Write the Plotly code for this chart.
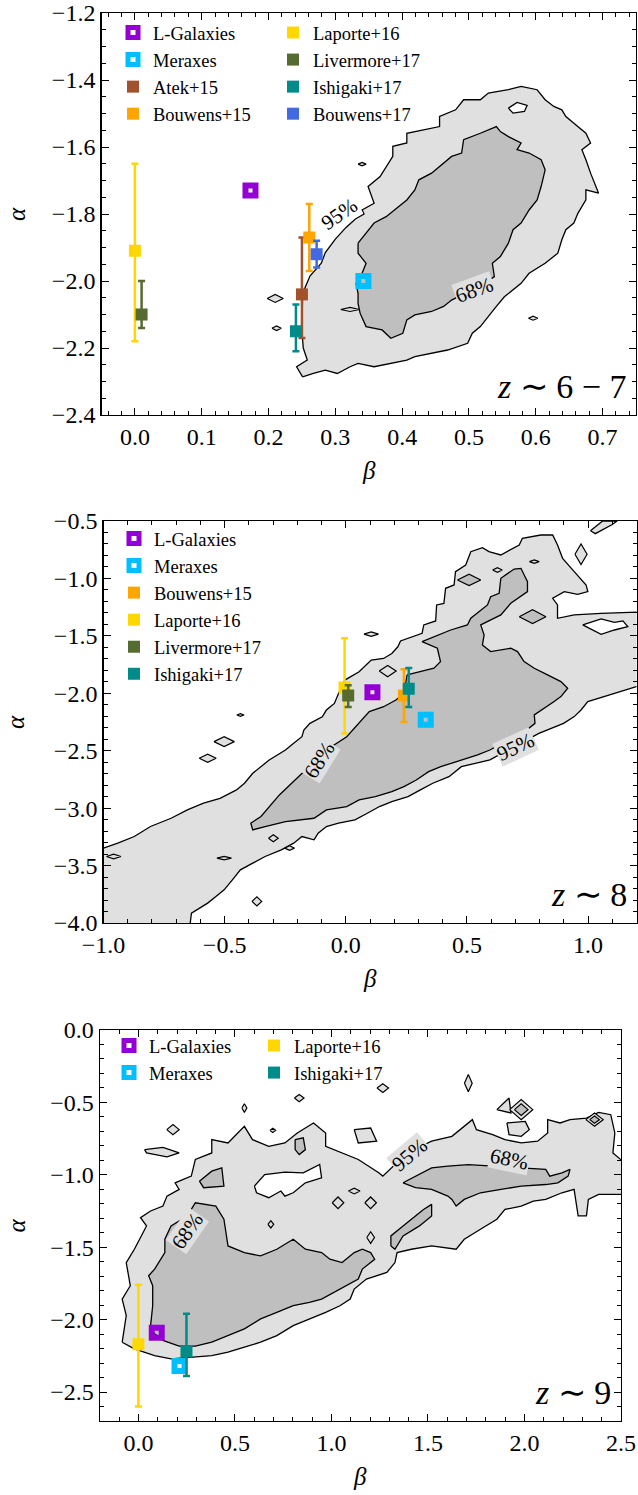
import plotly.graph_objects as go

# ------------------------------------------------------------------
# Data: best-fit (beta, alpha) of the UV luminosity function faint end
# ------------------------------------------------------------------
z67_names = ["L-Galaxies", "Meraxes", "Atek+15", "Bouwens+15",
             "Laporte+16", "Livermore+17", "Ishigaki+17", "Bouwens+17"]
z67_beta = [0.173, 0.342, 0.250, 0.261, 0.000, 0.010, 0.241, 0.272]
z67_alpha = [-1.73, -2.00, -2.04, -1.87, -1.91, -2.10, -2.15, -1.92]
z67_err_hi = [0.0, 0.0, 0.17, 0.10, 0.26, 0.10, 0.08, 0.04]
z67_err_lo = [0.0, 0.0, 0.13, 0.10, 0.27, 0.04, 0.06, 0.04]

z8_names = ["L-Galaxies", "Meraxes", "Bouwens+15", "Laporte+16",
            "Livermore+17", "Ishigaki+17"]
z8_beta = [0.11, 0.33, 0.24, -0.005, 0.01, 0.26]
z8_alpha = [-1.99, -2.23, -2.02, -1.95, -2.02, -1.96]
z8_err_hi = [0.0, 0.0, 0.23, 0.43, 0.09, 0.18]
z8_err_lo = [0.0, 0.0, 0.23, 0.40, 0.10, 0.16]

z9_names = ["L-Galaxies", "Meraxes", "Laporte+16", "Ishigaki+17"]
z9_beta = [0.095, 0.213, 0.000, 0.249]
z9_alpha = [-2.09, -2.32, -2.17, -2.22]
z9_err_hi = [0.0, 0.0, 0.41, 0.26]
z9_err_lo = [0.0, 0.0, 0.43, 0.17]

# ------------------------------------------------------------------
# Posterior credible regions (beta, alpha) vertices
# ------------------------------------------------------------------
z67_c95 = [(0.251, -2.286), (0.242, -2.256), (0.258, -2.236), (0.252, -2.20), (0.250, -2.15),
           (0.251, -2.08), (0.251, -2.037), (0.262, -1.985), (0.279, -1.947), (0.285, -1.915),
           (0.300, -1.875), (0.316, -1.84), (0.330, -1.815), (0.343, -1.80), (0.340, -1.788),
           (0.358, -1.768), (0.349, -1.718), (0.367, -1.688), (0.376, -1.658), (0.386, -1.628),
           (0.386, -1.598), (0.407, -1.588), (0.407, -1.559), (0.431, -1.549), (0.456, -1.539),
           (0.456, -1.509), (0.480, -1.489), (0.492, -1.459), (0.517, -1.459), (0.529, -1.439),
           (0.559, -1.429), (0.578, -1.419), (0.602, -1.429), (0.614, -1.459), (0.627, -1.479),
           (0.639, -1.489), (0.645, -1.509), (0.657, -1.529), (0.675, -1.559), (0.682, -1.588),
           (0.669, -1.608), (0.675, -1.638), (0.682, -1.678), (0.694, -1.738), (0.675, -1.728),
           (0.675, -1.758), (0.663, -1.798), (0.657, -1.827), (0.645, -1.847), (0.639, -1.877),
           (0.633, -1.917), (0.614, -1.947), (0.590, -1.977), (0.578, -2.007), (0.566, -2.027),
           (0.553, -2.047), (0.541, -2.076), (0.529, -2.106), (0.517, -2.136), (0.505, -2.156),
           (0.498, -2.186), (0.468, -2.206), (0.444, -2.216), (0.419, -2.226), (0.407, -2.236),
           (0.383, -2.246), (0.358, -2.256), (0.334, -2.246), (0.322, -2.256), (0.303, -2.276),
           (0.285, -2.266), (0.267, -2.276)]
z67_c68 = [(0.334, -1.887), (0.346, -1.857), (0.358, -1.827), (0.376, -1.808), (0.395, -1.778),
           (0.407, -1.758), (0.419, -1.728), (0.425, -1.698), (0.444, -1.678), (0.456, -1.658),
           (0.474, -1.628), (0.489, -1.618), (0.492, -1.578), (0.517, -1.559), (0.541, -1.539),
           (0.547, -1.554), (0.559, -1.569), (0.578, -1.588), (0.572, -1.608), (0.590, -1.618),
           (0.608, -1.638), (0.614, -1.668), (0.608, -1.718), (0.602, -1.758), (0.590, -1.788),
           (0.578, -1.827), (0.566, -1.847), (0.559, -1.887), (0.547, -1.927), (0.535, -1.947),
           (0.538, -1.987), (0.523, -2.007), (0.474, -2.057), (0.462, -2.076), (0.444, -2.091),
           (0.419, -2.101), (0.407, -2.116), (0.401, -2.156), (0.383, -2.171), (0.370, -2.146),
           (0.346, -2.136), (0.337, -2.096), (0.334, -2.067), (0.334, -2.037), (0.331, -2.007),
           (0.340, -1.977), (0.346, -1.947), (0.334, -1.917)]
z67_holes = [[(0.559, -1.484), (0.572, -1.467), (0.587, -1.476), (0.583, -1.494), (0.566, -1.499)]]
z67_islands = [(0.210, -2.052, 0.012, 0.012), (0.212, -2.141, 0.007, 0.007),
               (0.340, -1.651, 0.006, 0.005), (0.596, -2.111, 0.007, 0.006),
               (0.505, -1.621, 0.012, 0.004), (0.486, -1.676, 0.005, 0.006),
               (0.322, -2.085, 0.014, 0.006)]
z67_islands_dark = []

z8_c95 = [(-1.05, -3.36), (-1.0, -3.348), (-0.941, -3.305), (-0.873, -3.247), (-0.806, -3.160),
          (-0.721, -3.088), (-0.654, -3.015), (-0.587, -2.957), (-0.519, -2.914), (-0.451, -2.841),
          (-0.418, -2.783), (-0.384, -2.696), (-0.316, -2.581), (-0.249, -2.494), (-0.215, -2.436),
          (-0.181, -2.378), (-0.173, -2.320), (-0.148, -2.262), (-0.097, -2.204), (-0.080, -2.146),
          (-0.047, -2.088), (-0.030, -2.001), (-0.004, -1.885), (0.055, -1.813), (0.105, -1.711),
          (0.156, -1.697), (0.190, -1.653), (0.215, -1.595), (0.226, -1.544), (0.315, -1.478),
          (0.322, -1.405), (0.371, -1.370), (0.375, -1.231), (0.405, -1.217), (0.412, -1.086),
          (0.447, -1.057), (0.453, -0.941), (0.495, -0.883), (0.516, -0.767), (0.564, -0.732),
          (0.591, -0.767), (0.640, -0.796), (0.716, -0.709), (0.729, -0.651), (0.805, -0.622),
          (0.854, -0.622), (0.874, -0.709), (0.895, -0.825), (0.943, -0.941), (0.992, -1.057),
          (0.999, -1.115), (0.957, -1.138), (0.902, -1.115), (0.854, -1.173), (0.874, -1.231),
          (0.874, -1.347), (0.943, -1.318), (1.054, -1.304), (1.25, -1.289), (1.25, -1.942),
          (1.199, -1.942), (1.109, -2.000), (1.040, -2.043), (0.999, -2.072), (0.971, -2.145),
          (0.943, -2.203), (0.899, -2.262), (0.797, -2.349), (0.595, -2.580), (0.528, -2.610),
          (0.477, -2.639), (0.426, -2.726), (0.359, -2.783), (0.308, -2.841), (0.257, -2.899),
          (0.190, -2.943), (0.139, -2.986), (0.089, -3.044), (0.038, -3.102), (-0.030, -3.131),
          (-0.080, -3.160), (-0.114, -3.218), (-0.131, -3.276), (-0.181, -3.247), (-0.215, -3.305),
          (-0.266, -3.363), (-0.333, -3.421), (-0.384, -3.479), (-0.435, -3.537), (-0.468, -3.624),
          (-0.502, -3.711), (-0.536, -3.769), (-0.570, -3.827), (-0.637, -3.914), (-0.645, -4.05),
          (-1.05, -4.05)]
z8_c68 = [(0.253, -1.840), (0.364, -1.782), (0.391, -1.724), (0.378, -1.608), (0.315, -1.550),
          (0.433, -1.449), (0.502, -1.405), (0.516, -1.347), (0.585, -1.231), (0.598, -1.159),
          (0.633, -1.129), (0.640, -0.999), (0.695, -0.918), (0.723, -0.912), (0.750, -1.028),
          (0.750, -1.115), (0.681, -1.216), (0.640, -1.318), (0.557, -1.405), (0.571, -1.492),
          (0.564, -1.579), (0.598, -1.637), (0.681, -1.608), (0.709, -1.637), (0.736, -1.724),
          (0.778, -1.782), (0.833, -1.840), (0.888, -1.898), (0.916, -1.956), (0.888, -2.029),
          (0.860, -2.072), (0.819, -2.130), (0.778, -2.188), (0.781, -2.262), (0.747, -2.320),
          (0.696, -2.378), (0.646, -2.436), (0.595, -2.494), (0.544, -2.537), (0.477, -2.581),
          (0.392, -2.639), (0.342, -2.682), (0.291, -2.755), (0.240, -2.812), (0.190, -2.856),
          (0.122, -2.899), (0.055, -2.928), (0.004, -2.986), (-0.080, -3.015), (-0.131, -3.088),
          (-0.181, -3.102), (-0.249, -3.117), (-0.333, -3.160), (-0.384, -3.189), (-0.392, -3.131),
          (-0.350, -3.073), (-0.274, -2.885), (-0.181, -2.697), (-0.080, -2.494), (0.004, -2.378),
          (0.055, -2.262), (0.097, -2.160), (0.156, -2.117), (0.207, -2.059), (0.240, -2.001)]
z8_holes = [[(0.978, -1.405), (1.054, -1.353), (1.109, -1.382), (1.144, -1.370), (1.164, -1.420),
             (1.109, -1.449), (1.054, -1.486), (1.019, -1.449)]]
z8_islands = [(-0.502, -2.421, 0.042, 0.043), (-0.570, -2.566, 0.035, 0.035),
              (-0.435, -2.189, 0.015, 0.012), (-0.958, -3.421, 0.03, 0.02),
              (-0.502, -3.435, 0.03, 0.015), (-0.232, -3.348, 0.02, 0.02),
              (-0.299, -3.262, 0.02, 0.03), (-0.367, -3.812, 0.02, 0.04),
              (0.173, -1.807, 0.035, 0.05), (0.105, -1.485, 0.03, 0.02),
              (0.971, -0.790, 0.025, 0.09), (0.778, -0.854, 0.02, 0.015),
              (0.626, -0.926, 0.02, 0.02)]
z8_islands_dark = [(0.509, -1.013, 0.048, 0.05), (0.771, -1.333, 0.055, 0.06)]
z8_patches = [[(1.01, -0.585), (1.06, -0.50), (1.12, -0.50), (1.10, -0.53), (1.03, -0.61)]]

z9_c95 = [(-0.084, -2.156), (-0.063, -1.972), (-0.084, -1.858), (-0.042, -1.766), (-0.063, -1.606),
          (-0.021, -1.514), (0.011, -1.433), (0.042, -1.353), (0.011, -1.296), (0.063, -1.250),
          (0.127, -1.216), (0.148, -1.147), (0.211, -1.101), (0.190, -1.055), (0.274, -1.009),
          (0.295, -0.894), (0.380, -0.849), (0.380, -0.757), (0.464, -0.780), (0.549, -0.665),
          (0.591, -0.757), (0.675, -0.803), (0.759, -0.780), (0.823, -0.711), (0.907, -0.642),
          (0.970, -0.711), (0.970, -0.803), (1.055, -0.849), (1.139, -0.894), (1.245, -0.986),
          (1.266, -1.009), (1.392, -0.849), (1.519, -0.768), (1.624, -0.734), (1.730, -0.619),
          (1.751, -0.688), (1.835, -0.722), (1.899, -0.757), (1.983, -0.780), (2.068, -0.768),
          (2.120, -0.711), (2.120, -0.619), (2.184, -0.642), (2.236, -0.619), (2.321, -0.608),
          (2.384, -0.569), (2.447, -0.585), (2.468, -0.711), (2.458, -0.849), (2.55, -0.952),
          (2.55, -1.135), (2.447, -1.135), (2.384, -1.135), (2.331, -1.170), (2.321, -1.284),
          (2.278, -1.284), (2.257, -1.101), (2.194, -1.124), (2.110, -1.170), (2.046, -1.181),
          (1.983, -1.216), (1.899, -1.239), (1.857, -1.307), (1.772, -1.376), (1.688, -1.445),
          (1.646, -1.514), (1.519, -1.491), (1.414, -1.514), (1.340, -1.537), (1.329, -1.606),
          (1.287, -1.674), (1.181, -1.720), (1.118, -1.789), (1.097, -1.858), (1.044, -1.904),
          (0.970, -1.950), (0.886, -1.995), (0.802, -2.041), (0.717, -2.110), (0.633, -2.156),
          (0.549, -2.190), (0.464, -2.225), (0.380, -2.248), (0.274, -2.259), (0.169, -2.271),
          (0.084, -2.248), (-0.021, -2.202)]
z9_c68 = [(0.063, -2.041), (0.074, -1.904), (0.074, -1.766), (0.053, -1.697), (0.084, -1.651),
          (0.137, -1.537), (0.137, -1.445), (0.169, -1.353), (0.253, -1.284), (0.295, -1.193),
          (0.401, -1.216), (0.443, -1.307), (0.464, -1.491), (0.549, -1.537), (0.633, -1.560),
          (0.717, -1.514), (0.802, -1.445), (0.865, -1.514), (0.949, -1.537), (0.992, -1.583),
          (1.055, -1.606), (1.118, -1.537), (1.160, -1.514), (1.203, -1.537), (1.224, -1.583),
          (1.160, -1.651), (1.139, -1.720), (1.076, -1.766), (1.013, -1.812), (0.949, -1.858),
          (0.886, -1.881), (0.802, -1.904), (0.717, -1.950), (0.633, -1.995), (0.549, -2.064),
          (0.464, -2.110), (0.380, -2.156), (0.295, -2.183), (0.211, -2.183), (0.127, -2.144),
          (0.074, -2.087)]
z9_c68_b = [(1.371, -1.055), (1.435, -1.009), (1.519, -0.952), (1.603, -0.940), (1.709, -0.929),
            (2.110, -0.963), (2.131, -1.009), (2.194, -0.986), (2.236, -0.963), (2.226, -1.009),
            (2.173, -1.055), (2.110, -1.067), (1.983, -1.078), (1.878, -1.101), (1.772, -1.124),
            (1.688, -1.170), (1.646, -1.216), (1.624, -1.170), (1.603, -1.147), (1.519, -1.101),
            (1.435, -1.089)]
z9_c68_c = [(1.308, -1.491), (1.308, -1.422), (1.371, -1.353), (1.477, -1.239), (1.519, -1.204),
            (1.519, -1.284), (1.456, -1.353), (1.371, -1.422), (1.329, -1.514)]
z9_c68_d = [(0.316, -1.044), (0.380, -0.975), (0.432, -0.952), (0.443, -1.078), (0.338, -1.089)]
z9_c68_e = [(0.812, -0.757), (0.854, -0.745), (0.865, -0.826), (0.833, -0.860), (0.812, -0.826)]
z9_holes = [[(0.601, -1.078), (0.654, -0.998), (0.759, -0.982), (0.854, -0.986), (0.939, -0.929),
             (0.949, -1.021), (0.865, -1.055), (0.802, -1.124), (0.759, -1.147), (0.738, -1.112),
             (0.675, -1.158), (0.612, -1.124)]]
z9_islands = [(0.179, -0.688, 0.032, 0.035), (0.549, -0.539, 0.013, 0.03),
              (0.833, -0.470, 0.025, 0.025), (1.266, -0.401, 0.03, 0.03),
              (1.709, -0.367, 0.02, 0.06), (1.034, -1.193, 0.03, 0.04),
              (1.203, -1.193, 0.03, 0.04), (1.118, -1.112, 0.03, 0.02),
              (1.203, -1.433, 0.02, 0.04), (0.686, -1.342, 0.015, 0.025),
              (0.696, -0.693, 0.015, 0.015), (1.983, -0.550, 0.06, 0.07),
              (2.363, -0.619, 0.045, 0.045)]
z9_islands_dark = [(1.983, -0.550, 0.035, 0.04), (2.363, -0.619, 0.025, 0.025)]
z9_patches = [[(0.032, -0.826), (0.127, -0.810), (0.211, -0.849), (0.148, -0.876), (0.042, -0.849)],
              [(1.118, -0.688), (1.203, -0.677), (1.234, -0.768), (1.139, -0.780)],
              [(1.857, -0.550), (1.920, -0.470), (1.930, -0.573)],
              [(1.909, -0.642), (2.004, -0.631), (2.025, -0.688), (1.983, -0.734), (1.920, -0.723)]]

# ------------------------------------------------------------------
# Styling
# ------------------------------------------------------------------
FONT = "Liberation Serif"
LIGHT = "#e0e0e0"
DARK = "#bfbfbf"
COLORS = {
    "L-Galaxies": "#9400d3", "Meraxes": "#00bfff", "Atek+15": "#a0522d",
    "Bouwens+15": "#ffa500", "Laporte+16": "#ffd700", "Livermore+17": "#556b2f",
    "Ishigaki+17": "#008b8b", "Bouwens+17": "#4169e1",
}
MODELS = {"L-Galaxies", "Meraxes"}

W, H = 638, 1495
panels = [
    dict(xa="x", ya="y", xd=(101.5, 636), yd=(13, 415), xr=(-0.05, 0.75), yr=(-2.4, -1.2),
         xdt=0.1, xmin=0.02, ydt=0.2, ymin=0.05, label="<i>z</i> ∼ 6 − 7",
         names=z67_names, beta=z67_beta, alpha=z67_alpha, hi=z67_err_hi, lo=z67_err_lo,
         c95=[z67_c95], c68=[z67_c68], holes=z67_holes, islands=z67_islands,
         islands_dark=z67_islands_dark, patches=[],
         legends={"legend": z67_names[:4], "legend2": z67_names[4:]},
         clabels=[("95%", 0.306, -1.80, -35, "white"), ("68%", 0.508, -2.027, -20, LIGHT)]),
    dict(xa="x2", ya="y2", xd=(103.5, 636.5), yd=(521, 923), xr=(-1.0, 1.2), yr=(-4.0, -0.5),
         xdt=0.5, xmin=0.1, ydt=0.5, ymin=0.1, label="<i>z</i> ∼ 8",
         names=z8_names, beta=z8_beta, alpha=z8_alpha, hi=z8_err_hi, lo=z8_err_lo,
         c95=[z8_c95], c68=[z8_c68], holes=z8_holes, islands=z8_islands,
         islands_dark=z8_islands_dark, patches=z8_patches,
         legends={"legend3": z8_names},
         clabels=[("68%", -0.109, -2.58, -58, LIGHT), ("95%", 0.70, -2.465, -25, LIGHT)]),
    dict(xa="x3", ya="y3", xd=(99.8, 621), yd=(1030, 1421), xr=(-0.2, 2.5), yr=(-2.7, 0.0),
         xdt=0.5, xmin=0.1, ydt=0.5, ymin=0.1, label="<i>z</i> ∼ 9",
         names=z9_names, beta=z9_beta, alpha=z9_alpha, hi=z9_err_hi, lo=z9_err_lo,
         c95=[z9_c95], c68=[z9_c68, z9_c68_b, z9_c68_c, z9_c68_d, z9_c68_e], holes=z9_holes,
         islands=z9_islands, islands_dark=z9_islands_dark, patches=z9_patches,
         legends={"legend4": z9_names[:2], "legend5": z9_names[2:]},
         clabels=[("68%", 0.253, -1.388, -55, LIGHT), ("95%", 1.403, -0.860, -40, LIGHT),
                  ("68%", 1.920, -0.894, 12, LIGHT)]),
]

fig = go.Figure()


def polygon(pts, fill, xa, ya, lw=1.3):
    xs = [p[0] for p in pts] + [pts[0][0]]
    ys = [p[1] for p in pts] + [pts[0][1]]
    fig.add_trace(go.Scatter(x=xs, y=ys, mode="lines", fill="toself", fillcolor=fill,
                             line=dict(color="black", width=lw), hoverinfo="skip",
                             showlegend=False, xaxis=xa, yaxis=ya))


def diamond(cx, cy, dx, dy):
    return [(cx - dx, cy), (cx, cy + dy), (cx + dx, cy), (cx, cy - dy)]


for p in panels:
    xa, ya = p["xa"], p["ya"]
    for poly in p["c95"]:
        polygon(poly, LIGHT, xa, ya)
    for poly in p["holes"]:
        polygon(poly, "white", xa, ya)
    for poly in p["patches"]:
        polygon(poly, LIGHT, xa, ya)
    for isl in p["islands"]:
        polygon(diamond(*isl), LIGHT, xa, ya, lw=1.2)
    for poly in p["c68"]:
        polygon(poly, DARK, xa, ya)
    for isl in p["islands_dark"]:
        polygon(diamond(*isl), DARK, xa, ya, lw=1.2)

    legend_of = {n: lg for lg, names in p["legends"].items() for n in names}
    for n, b, a, hi, lo in zip(p["names"], p["beta"], p["alpha"], p["hi"], p["lo"]):
        c = COLORS[n]
        if n in MODELS:
            marker = dict(symbol="square", size=10, color="rgba(0,0,0,0)",
                          line=dict(color=c, width=6))
            err = dict(visible=False)
        else:
            marker = dict(symbol="square", size=12, color=c, line=dict(width=0))
            err = dict(type="data", array=[hi], arrayminus=[lo], color=c,
                       thickness=2.5, width=3.5, visible=True)
        fig.add_trace(go.Scatter(x=[b], y=[a], mode="markers", marker=marker, error_y=err,
                                 name=n, legend=legend_of[n], showlegend=True,
                                 hoverinfo="skip", xaxis=xa, yaxis=ya))

layout = dict(
    width=W, height=H, margin=dict(l=0, r=0, t=0, b=0, autoexpand=False),
    paper_bgcolor="white", plot_bgcolor="white", showlegend=True,
    font=dict(family=FONT, color="black"),
)
annotations = []
legend_pos = {"legend": (113, 14), "legend2": (273, 14), "legend3": (114, 520),
              "legend4": (109, 1027), "legend5": (254, 1027)}
for name, (lx, ly) in legend_pos.items():
    layout[name] = dict(x=lx / W, y=1 - ly / H, xanchor="left", yanchor="top",
                        bgcolor="rgba(0,0,0,0)", borderwidth=0,
                        font=dict(family=FONT, size=18.5, color="black"),
                        itemclick=False, itemdoubleclick=False)

for i, p in enumerate(panels):
    sfx = "" if i == 0 else str(i + 1)
    x0, x1 = p["xd"]
    y0, y1 = p["yd"]
    common = dict(showline=True, linecolor="black", linewidth=1.3, mirror="allticks",
                  ticks="inside", ticklen=7, tickwidth=1, tickcolor="black",
                  showgrid=False, zeroline=False, tickformat=".1f", automargin=False,
                  ticklabeloverflow="allow",
                  tickfont=dict(family=FONT, size=24, color="black"))
    layout["xaxis" + sfx] = dict(
        common, domain=[x0 / W, x1 / W], range=list(p["xr"]), anchor="y" + sfx,
        dtick=p["xdt"], tick0=0,
        minor=dict(ticks="inside", ticklen=4, tickwidth=1, tickcolor="black",
                   dtick=p["xmin"], tick0=0, showgrid=False))
    layout["yaxis" + sfx] = dict(
        common, domain=[1 - y1 / H, 1 - y0 / H], range=list(p["yr"]), anchor="x" + sfx,
        dtick=p["ydt"], tick0=0,
        minor=dict(ticks="inside", ticklen=4, tickwidth=1, tickcolor="black",
                   dtick=p["ymin"], tick0=0, showgrid=False))

    xa, ya = p["xa"], p["ya"]
    for txt, bx, ay, ang, bg in p["clabels"]:
        annotations.append(dict(x=bx, y=ay, xref=xa, yref=ya, text=txt, showarrow=False,
                                textangle=ang, bgcolor=bg, borderpad=0,
                                font=dict(family=FONT, size=21, color="black")))
    annotations.append(dict(x=0.985, y=0.02, xref=xa + " domain", yref=ya + " domain",
                            text=p["label"], showarrow=False, xanchor="right",
                            yanchor="bottom", font=dict(family=FONT, size=34, color="black")))
    annotations.append(dict(x=(x0 + x1) / 2 / W, y=1 - (y1 + 55) / H, xref="paper",
                            yref="paper", text="<i>β</i>", showarrow=False,
                            xanchor="center", yanchor="middle",
                            font=dict(family=FONT, size=25, color="black")))
    annotations.append(dict(x=16 / W, y=1 - (y0 + y1) / 2 / H, xref="paper", yref="paper",
                            text="<i>α</i>", showarrow=False, textangle=-90,
                            xanchor="center", yanchor="middle",
                            font=dict(family=FONT, size=25, color="black")))

layout["annotations"] = annotations
fig.update_layout(**layout)
fig.write_html("out.html", config={"displayModeBar": False, "staticPlot": True})
